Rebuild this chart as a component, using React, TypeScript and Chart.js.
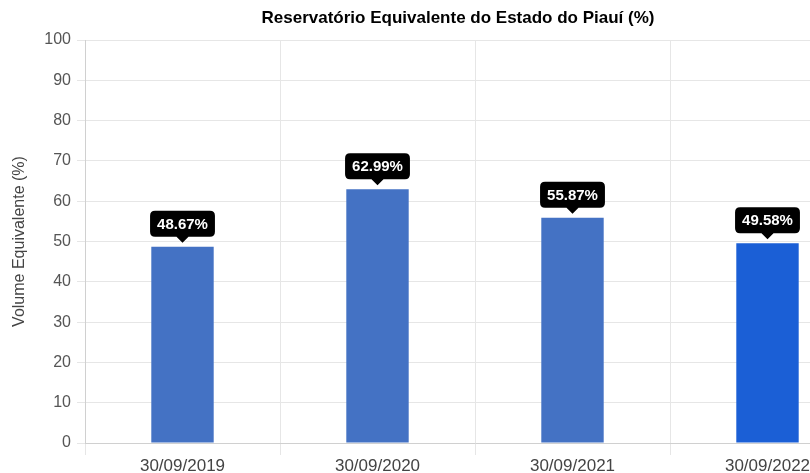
import React, { useEffect, useRef } from "react";
import { Chart, registerables } from "chart.js";

Chart.register(...registerables);

const categories = ["30/09/2019", "30/09/2020", "30/09/2021", "30/09/2022"];
const volumes = [48.67, 62.99, 55.87, 49.58];
const barColors = ["#4472C4", "#4472C4", "#4472C4", "#1B5FD6"];
const yTicks = [0, 10, 20, 30, 40, 50, 60, 70, 80, 90, 100];
const chartTitle = "Reservatório Equivalente do Estado do Piauí (%)";
const yTitle = "Volume Equivalente (%)";

const FONT = "'Liberation Sans', Arial, sans-serif";

const titlePlugin = {
  id: "customTitle",
  afterDraw(chart: any) {
    const ctx = chart.ctx;
    ctx.save();
    ctx.font = "bold 17px " + FONT;
    ctx.fillStyle = "#000";
    ctx.textAlign = "center";
    ctx.textBaseline = "middle";
    ctx.fillText(chartTitle, chart.width / 2, 18);
    ctx.restore();
  },
};

const calloutPlugin = {
  id: "callouts",
  afterDatasetsDraw(chart: any) {
    const ctx = chart.ctx;
    const meta = chart.getDatasetMeta(0);
    ctx.save();
    ctx.font = "bold 15px " + FONT;
    meta.data.forEach((bar: any, i: number) => {
      const text = volumes[i].toFixed(2) + "%";
      const w = ctx.measureText(text).width + 14;
      const h = 26;
      const tipY = bar.y - 4;
      const boxBottom = tipY - 6;
      const x = bar.x - w / 2;
      const y = boxBottom - h;
      const r = 5;
      ctx.fillStyle = "#000";
      ctx.beginPath();
      ctx.moveTo(x + r, y);
      ctx.lineTo(x + w - r, y);
      ctx.quadraticCurveTo(x + w, y, x + w, y + r);
      ctx.lineTo(x + w, boxBottom - r);
      ctx.quadraticCurveTo(x + w, boxBottom, x + w - r, boxBottom);
      ctx.lineTo(bar.x + 6, boxBottom);
      ctx.lineTo(bar.x, tipY);
      ctx.lineTo(bar.x - 6, boxBottom);
      ctx.lineTo(x + r, boxBottom);
      ctx.quadraticCurveTo(x, boxBottom, x, boxBottom - r);
      ctx.lineTo(x, y + r);
      ctx.quadraticCurveTo(x, y, x + r, y);
      ctx.closePath();
      ctx.fill();
      ctx.fillStyle = "#fff";
      ctx.textAlign = "center";
      ctx.textBaseline = "middle";
      ctx.fillText(text, bar.x, y + h / 2 + 1);
    });
    ctx.restore();
  },
};

export default function App() {
  const ref = useRef<HTMLCanvasElement>(null);
  useEffect(() => {
    if (!ref.current) return;
    const chart = new Chart(ref.current, {
      type: "bar",
      data: {
        labels: categories,
        datasets: [
          {
            data: volumes,
            backgroundColor: barColors,
            categoryPercentage: 0.8,
            barPercentage: 0.4,
          },
        ],
      },
      options: {
        responsive: false,
        animation: false,
        layout: { padding: { left: 0, right: 51, top: 40, bottom: 0 } },
        plugins: {
          legend: { display: false },
          tooltip: { enabled: false },
          title: { display: false },
        },
        scales: {
          x: {
            grid: { color: "#e6e6e6", offset: true, tickLength: 12 },
            border: { color: "#d0d0d0" },
            ticks: {
              color: "#444",
              font: { family: FONT, size: 17 },
              padding: 1,
              maxRotation: 0,
            },
            afterFit: (s: any) => {
              s.height = 30;
            },
          },
          y: {
            min: 0,
            max: 100,
            afterBuildTicks: (s: any) => {
              s.ticks = yTicks.map((v) => ({ value: v }));
            },
            grid: { color: "#e6e6e6", tickLength: 8 },
            border: { color: "#d0d0d0" },
            ticks: {
              color: "#555",
              font: { family: FONT, size: 16 },
              padding: 6,
            },
            title: {
              display: true,
              text: yTitle,
              color: "#444",
              font: { family: FONT, size: 16 },
              padding: { top: 10, bottom: 0 },
            },
            afterFit: (s: any) => {
              s.width = 85;
            },
          },
        },
      },
      plugins: [calloutPlugin, titlePlugin],
    });
    return () => chart.destroy();
  }, []);
  return (
    <div style={{ position: "fixed", left: 0, top: 0, width: 810, height: 473, overflow: "hidden", background: "#fff" }}>
      <canvas ref={ref} width={916} height={473} style={{ display: "block" }} />
    </div>
  );
}
